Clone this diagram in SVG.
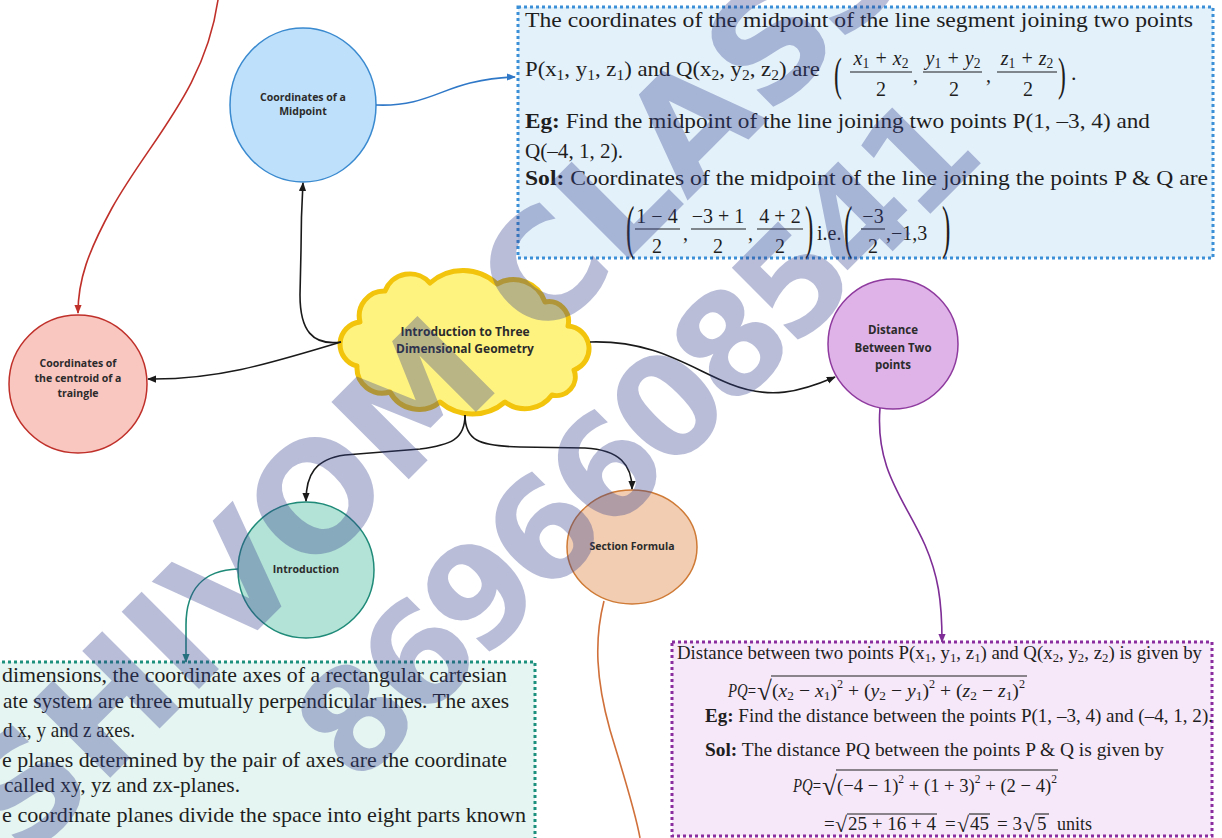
<svg xmlns="http://www.w3.org/2000/svg" width="1222" height="838" viewBox="0 0 1222 838">
<style>
.lbl{font-family:"Open Sans","Liberation Sans",sans-serif;font-weight:700;fill:#2b2b2b;text-anchor:middle;font-size:10.5px}
.t{font-family:"Liberation Serif",serif;fill:#1e1e1e}
.b{font-weight:700}
.i{font-style:italic}
.sub{font-size:0.68em;font-style:normal}
.sup{font-size:0.62em;font-style:normal}
.mid{text-anchor:middle}
.bar{stroke:#1e1e1e;stroke-width:1.1}
.wm{font-family:"DejaVu Sans",sans-serif;font-weight:700;fill:#34408f;opacity:0.34}
.con{fill:none;stroke-width:1.6}
.box{stroke-width:3;stroke-dasharray:3 3}
</style>
<defs>
<marker id="ak" viewBox="0 0 10 10" refX="9" refY="5" markerWidth="9" markerHeight="9" markerUnits="userSpaceOnUse" orient="auto"><path d="M0,1 L10,5 L0,9 z" fill="#1a1a1a"/></marker>
<marker id="ar" viewBox="0 0 10 10" refX="9" refY="5" markerWidth="9" markerHeight="9" markerUnits="userSpaceOnUse" orient="auto"><path d="M0,1 L10,5 L0,9 z" fill="#c0302a"/></marker>
<marker id="ab" viewBox="0 0 10 10" refX="9" refY="5" markerWidth="9" markerHeight="9" markerUnits="userSpaceOnUse" orient="auto"><path d="M0,1 L10,5 L0,9 z" fill="#2f78c8"/></marker>
<marker id="ap" viewBox="0 0 10 10" refX="9" refY="5" markerWidth="9" markerHeight="9" markerUnits="userSpaceOnUse" orient="auto"><path d="M0,1 L10,5 L0,9 z" fill="#7e2e96"/></marker>
<marker id="at" viewBox="0 0 10 10" refX="9" refY="5" markerWidth="9" markerHeight="9" markerUnits="userSpaceOnUse" orient="auto"><path d="M0,1 L10,5 L0,9 z" fill="#1f8a78"/></marker>
</defs>
<rect width="1222" height="838" fill="#ffffff"/>

<g id="box-midpoint">
<rect class="box" x="518" y="7" width="695" height="251" fill="#e3f1fb" stroke="#3a8fd6"/>
<text class="t" x="525" y="27" font-size="22" textLength="668" lengthAdjust="spacingAndGlyphs">The coordinates of the midpoint of the line segment joining two points</text>
<text class="t" x="525" y="76" font-size="22" textLength="295" lengthAdjust="spacingAndGlyphs">P(x<tspan class="sub" dy="4">1</tspan><tspan dy="-4">, y</tspan><tspan class="sub" dy="4">1</tspan><tspan dy="-4">, z</tspan><tspan class="sub" dy="4">1</tspan><tspan dy="-4">) and Q(x</tspan><tspan class="sub" dy="4">2</tspan><tspan dy="-4">, y</tspan><tspan class="sub" dy="4">2</tspan><tspan dy="-4">, z</tspan><tspan class="sub" dy="4">2</tspan><tspan dy="-4">) are</tspan></text>
<text class="t" transform="translate(834,90) scale(0.5,1)" font-size="47">(</text>
<text class="t i mid" x="881" y="65" font-size="20">x<tspan class="sub" dy="3">1</tspan><tspan dy="-3"> + x</tspan><tspan class="sub" dy="3">2</tspan></text>
<line class="bar" x1="850" y1="72" x2="912" y2="72"/>
<text class="t mid" x="881" y="96" font-size="20">2</text>
<text class="t" x="913" y="82" font-size="20">,</text>
<text class="t i mid" x="953" y="65" font-size="20">y<tspan class="sub" dy="3">1</tspan><tspan dy="-3"> + y</tspan><tspan class="sub" dy="3">2</tspan></text>
<line class="bar" x1="923" y1="72" x2="982" y2="72"/>
<text class="t mid" x="954" y="96" font-size="20">2</text>
<text class="t" x="986" y="82" font-size="20">,</text>
<text class="t i mid" x="1027" y="65" font-size="20">z<tspan class="sub" dy="3">1</tspan><tspan dy="-3"> + z</tspan><tspan class="sub" dy="3">2</tspan></text>
<line class="bar" x1="997" y1="72" x2="1057" y2="72"/>
<text class="t mid" x="1028" y="96" font-size="20">2</text>
<text class="t" transform="translate(1058,90) scale(0.5,1)" font-size="47">)</text>
<text class="t" x="1071" y="80" font-size="22">.</text>
<text class="t" x="525" y="128" font-size="22" textLength="625" lengthAdjust="spacingAndGlyphs"><tspan class="b">Eg:</tspan> Find the midpoint of the line joining two points P(1, –3, 4) and</text>
<text class="t" x="525" y="158" font-size="22" textLength="98" lengthAdjust="spacingAndGlyphs">Q(–4, 1, 2).</text>
<text class="t" x="525" y="185" font-size="22" textLength="683" lengthAdjust="spacingAndGlyphs"><tspan class="b">Sol:</tspan> Coordinates of the midpoint of the line joining the points P &amp; Q are</text>
<text class="t" transform="translate(626,247) scale(0.42,1)" font-size="60">(</text>
<text class="t mid" x="657" y="223" font-size="20">1 − 4</text>
<line class="bar" x1="635" y1="229" x2="680" y2="229"/>
<text class="t mid" x="657" y="253" font-size="20">2</text>
<text class="t" x="683" y="240" font-size="20">,</text>
<text class="t mid" x="718" y="223" font-size="20">−3 + 1</text>
<line class="bar" x1="691" y1="229" x2="746" y2="229"/>
<text class="t mid" x="718" y="253" font-size="20">2</text>
<text class="t" x="748" y="240" font-size="20">,</text>
<text class="t mid" x="780" y="223" font-size="20">4 + 2</text>
<line class="bar" x1="757" y1="229" x2="803" y2="229"/>
<text class="t mid" x="780" y="253" font-size="20">2</text>
<text class="t" transform="translate(805,247) scale(0.42,1)" font-size="60">)</text>
<text class="t" x="817" y="240" font-size="20">i.e.</text>
<text class="t" transform="translate(844,247) scale(0.42,1)" font-size="60">(</text>
<text class="t mid" x="873" y="223" font-size="20">−3</text>
<line class="bar" x1="861" y1="229" x2="885" y2="229"/>
<text class="t mid" x="873" y="253" font-size="20">2</text>
<text class="t" x="886" y="240" font-size="20">,−1,3</text>
<text class="t" transform="translate(942,247) scale(0.42,1)" font-size="60">)</text>
</g>

<g id="box-distance">
<rect class="box" x="672" y="642" width="540" height="194" fill="#f7e8f9" stroke="#8a2d9e"/>
<text class="t" x="677" y="659" font-size="19" textLength="525" lengthAdjust="spacingAndGlyphs">Distance between two points P(x<tspan class="sub" dy="3">1</tspan><tspan dy="-3">, y</tspan><tspan class="sub" dy="3">1</tspan><tspan dy="-3">, z</tspan><tspan class="sub" dy="3">1</tspan><tspan dy="-3">) and Q(x</tspan><tspan class="sub" dy="3">2</tspan><tspan dy="-3">, y</tspan><tspan class="sub" dy="3">2</tspan><tspan dy="-3">, z</tspan><tspan class="sub" dy="3">2</tspan><tspan dy="-3">) is given by</tspan></text>
<text class="t" x="728" y="697" font-size="19" textLength="28" lengthAdjust="spacingAndGlyphs"><tspan class="i">PQ</tspan>=</text>
<text class="t" x="757" y="700" font-size="27">√</text>
<line class="bar" x1="771" y1="676" x2="1027" y2="676"/>
<text class="t" x="772" y="697" font-size="19" textLength="253" lengthAdjust="spacingAndGlyphs">(<tspan class="i">x</tspan><tspan class="sub" dy="3">2</tspan><tspan dy="-3"> − </tspan><tspan class="i">x</tspan><tspan class="sub" dy="3">1</tspan><tspan dy="-3">)</tspan><tspan class="sup" dy="-9">2</tspan><tspan dy="9"> + (</tspan><tspan class="i">y</tspan><tspan class="sub" dy="3">2</tspan><tspan dy="-3"> − </tspan><tspan class="i">y</tspan><tspan class="sub" dy="3">1</tspan><tspan dy="-3">)</tspan><tspan class="sup" dy="-9">2</tspan><tspan dy="9"> + (</tspan><tspan class="i">z</tspan><tspan class="sub" dy="3">2</tspan><tspan dy="-3"> − </tspan><tspan class="i">z</tspan><tspan class="sub" dy="3">1</tspan><tspan dy="-3">)</tspan><tspan class="sup" dy="-9">2</tspan></text>
<text class="t" x="705" y="722" font-size="19" textLength="508" lengthAdjust="spacingAndGlyphs"><tspan class="b">Eg:</tspan> Find the distance between the points P(1, –3, 4) and (–4, 1, 2).</text>
<text class="t" x="705" y="756" font-size="19" textLength="459" lengthAdjust="spacingAndGlyphs"><tspan class="b">Sol:</tspan> The distance PQ between the points P &amp; Q is given by</text>
<text class="t" x="793" y="792" font-size="19" textLength="28" lengthAdjust="spacingAndGlyphs"><tspan class="i">PQ</tspan>=</text>
<text class="t" x="822" y="795" font-size="27">√</text>
<line class="bar" x1="836" y1="770" x2="1058" y2="770"/>
<text class="t" x="837" y="792" font-size="19" textLength="220" lengthAdjust="spacingAndGlyphs">(−4 − 1)<tspan class="sup" dy="-9">2</tspan><tspan dy="9"> + (1 + 3)</tspan><tspan class="sup" dy="-9">2</tspan><tspan dy="9"> + (2 − 4)</tspan><tspan class="sup" dy="-9">2</tspan></text>
<text class="t" x="824" y="830" font-size="19">=</text>
<text class="t" x="835" y="832" font-size="22">√</text>
<line class="bar" x1="847" y1="814" x2="937" y2="814"/>
<text class="t" x="848" y="830" font-size="19" textLength="88" lengthAdjust="spacingAndGlyphs">25 + 16 + 4</text>
<text class="t" x="945" y="830" font-size="19">=</text>
<text class="t" x="957" y="832" font-size="22">√</text>
<line class="bar" x1="969" y1="814" x2="990" y2="814"/>
<text class="t" x="970" y="830" font-size="19">45</text>
<text class="t" x="997" y="830" font-size="19">= 3</text>
<text class="t" x="1023" y="832" font-size="22">√</text>
<line class="bar" x1="1035" y1="814" x2="1049" y2="814"/>
<text class="t" x="1037" y="830" font-size="19">5</text>
<text class="t" x="1057" y="830" font-size="19" textLength="35" lengthAdjust="spacingAndGlyphs">units</text>
</g>

<g id="box-introduction">
<rect class="box" x="-10" y="662" width="545" height="200" fill="#e5f5f1" stroke="#1d8f7d"/>
<text class="t" x="2" y="682" font-size="22" textLength="505" lengthAdjust="spacingAndGlyphs">dimensions, the coordinate axes of a rectangular cartesian</text>
<text class="t" x="3" y="708" font-size="22" textLength="506" lengthAdjust="spacingAndGlyphs">ate system are three mutually perpendicular lines. The axes</text>
<text class="t" x="3" y="737" font-size="22" textLength="132" lengthAdjust="spacingAndGlyphs">d x, y and z axes.</text>
<text class="t" x="2" y="767" font-size="22" textLength="505" lengthAdjust="spacingAndGlyphs">e planes determined by the pair of axes are the coordinate</text>
<text class="t" x="4" y="792" font-size="22" textLength="236" lengthAdjust="spacingAndGlyphs">called xy, yz and zx-planes.</text>
<text class="t" x="2" y="822" font-size="22" textLength="524" lengthAdjust="spacingAndGlyphs">e coordinate planes divide the space into eight parts known</text>
</g>

<g id="node-midpoint">
<ellipse cx="303" cy="105" rx="73" ry="77" fill="#bfe0fa" stroke="#3a8ad0" stroke-width="1.5"/>
<text class="lbl" x="303" y="101">Coordinates of a</text>
<text class="lbl" x="303" y="115">Midpoint</text>
</g>

<g id="node-centroid">
<circle cx="78" cy="384" r="69" fill="#f9c6c0" stroke="#c0302a" stroke-width="1.5"/>
<text class="lbl" x="78" y="367">Coordinates of</text>
<text class="lbl" x="78" y="382">the centroid of a</text>
<text class="lbl" x="78" y="397">traingle</text>
</g>

<g id="node-main">
<path d="M360,322 A25,25 0 0 1 385,291 A26.7,26.7 0 0 1 430,283 A49.7,49.7 0 0 1 497,284 A33.3,33.3 0 0 1 545,302 A19.8,19.8 0 0 1 568,326 A22.7,22.7 0 0 1 574,370 A18.8,18.8 0 0 1 552,395 A33.3,33.3 0 0 1 505,402 A50,50 0 0 1 440,402 A33,33 0 0 1 390,392 A25.5,25.5 0 0 1 357,366 A22.4,22.4 0 0 1 360,322 Z" fill="#fff380" stroke="#f2c40c" stroke-width="5" stroke-linejoin="round"/>
<text class="lbl" x="465" y="336" style="font-size:12px">Introduction to Three</text>
<text class="lbl" x="465" y="353" style="font-size:12px">Dimensional Geometry</text>
</g>

<g id="node-distance">
<circle cx="893" cy="344" r="65" fill="#dfb3e8" stroke="#8e3a9e" stroke-width="1.5"/>
<text class="lbl" x="893" y="334" style="font-size:11.5px">Distance</text>
<text class="lbl" x="893" y="352" style="font-size:11.5px">Between Two</text>
<text class="lbl" x="893" y="369" style="font-size:11.5px">points</text>
</g>

<g id="node-section">
<ellipse cx="632" cy="547" rx="65" ry="57" fill="#f2cdb2" stroke="#cf7a35" stroke-width="1.5"/>
<text class="lbl" x="632" y="550">Section Formula</text>
</g>

<g id="node-introduction">
<circle cx="306" cy="570" r="68" fill="#b3e3d6" stroke="#1f8a78" stroke-width="1.5"/>
<text class="lbl" x="306" y="573">Introduction</text>
</g>

<g id="connectors">
<path class="con" stroke="#c0302a" marker-end="url(#ar)" d="M218,0 C205,90 150,140 112,208 C88,252 78,280 78,313"/>
<path class="con" stroke="#1a1a1a" marker-end="url(#ak)" d="M341,342 C312,346 300,330 300,295 L301,250 C301,215 302,200 303,183"/>
<path class="con" stroke="#1a1a1a" marker-end="url(#ak)" d="M341,342 C265,365 215,380 148,379"/>
<path class="con" stroke="#2f78c8" marker-end="url(#ab)" d="M376,105 C420,107 440,90 470,83 C488,79 500,77 515,77"/>
<path class="con" stroke="#1a1a1a" marker-end="url(#ak)" d="M590,342 C655,340 690,368 730,384 C770,400 800,392 835,377"/>
<path class="con" stroke="#1a1a1a" marker-end="url(#ak)" d="M465,415 C465,440 478,446 520,447 L585,448 C620,450 632,465 632,489"/>
<path class="con" stroke="#1a1a1a" marker-end="url(#ak)" d="M465,415 C465,440 450,445 420,449 L345,455 C315,459 306,475 306,501"/>
<path class="con" stroke="#1f8a78" marker-end="url(#at)" d="M238,569 C203,570 186,590 186,625 L186,662"/>
<path class="con" stroke="#7e2e96" marker-end="url(#ap)" d="M880,408 C875,470 905,500 925,545 C938,575 942,600 942,642"/>
<path class="con" stroke="#d0703a" d="M604,601 C594,640 596,680 610,730 C625,780 635,810 640,838"/>
</g>

<g id="watermark">
<text class="wm" font-size="150" transform="translate(24,864) rotate(-45)">SHIVOM CLASSES</text>
<text class="wm" font-size="140" letter-spacing="-9" transform="translate(356,788) rotate(-45)">8696608541</text>
</g>
</svg>
